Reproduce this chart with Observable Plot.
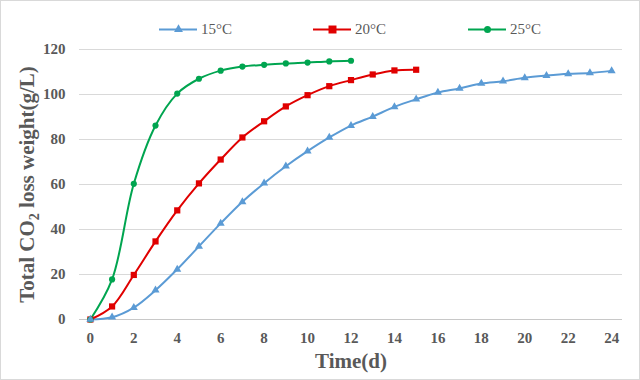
<!DOCTYPE html>
<html>
<head>
<meta charset="utf-8">
<script src="https://cdn.jsdelivr.net/npm/d3@7"></script>
<script src="https://cdn.jsdelivr.net/npm/@observablehq/plot@0.6"></script>
<style>
  html, body { margin: 0; padding: 0; background: #fff; }
  #chart { position: relative; width: 640px; height: 380px; box-sizing: border-box; border: 1px solid #d9d9d9; background: #fff; overflow: hidden; }
  #legend { position: relative; height: 39px; font-family: "Liberation Serif", "Times New Roman", serif; font-size: 15px; color: #595959; }
  .item { position: absolute; top: 18px; display: flex; align-items: center; height: 20px; }
  .item svg { display: block; margin-right: 4px; }
</style>
</head>
<body>
<div id="chart"><div id="legend"></div></div>
<script>
const series = ["15°C", "20°C", "25°C"];
const colors = ["#5b9bd5", "#e00000", "#00a550"];
const symbols = ["triangle", "square", "circle"];
const days15 = [0,1,2,3,4,5,6,7,8,9,10,11,12,13,14,15,16,17,18,19,20,21,22,23,24];
const loss15 = [0, 1.0, 5.3, 13.0, 22.3, 32.5, 42.7, 52.3, 60.6, 68.1, 74.8, 80.9, 86.2, 90.2, 94.5, 97.9, 100.9, 102.7, 104.9, 105.9, 107.4, 108.4, 109.2, 109.6, 110.5];
const days20 = [0,1,2,3,4,5,6,7,8,9,10,11,12,13,14,15];
const loss20 = [0, 5.8, 19.8, 34.7, 48.5, 60.5, 71.1, 80.9, 88.1, 94.7, 99.7, 103.7, 106.4, 108.9, 110.7, 111.0];
const days25 = [0,1,2,3,4,5,6,7,8,9,10,11,12];
const loss25 = [0, 17.8, 60.3, 86.2, 100.4, 107.0, 110.6, 112.4, 113.2, 113.8, 114.2, 114.7, 115.0];
const xTicks = [0,2,4,6,8,10,12,14,16,18,20,22,24];
const yTicks = [0,20,40,60,80,100,120];

const data = [
  ...days15.map((d, i) => ({series: series[0], day: d, loss: loss15[i]})),
  ...days20.map((d, i) => ({series: series[1], day: d, loss: loss20[i]})),
  ...days25.map((d, i) => ({series: series[2], day: d, loss: loss25[i]}))
];

// Legend (HTML)
const legend = document.getElementById("legend");
const legendX = [158, 312, 467];
series.forEach((s, i) => {
  const item = document.createElement("div");
  item.className = "item";
  item.style.left = legendX[i] + "px";
  const sw = Plot.plot({
    width: 38, height: 14, margin: 0,
    x: {domain: [0, 1], axis: null}, y: {domain: [0, 1], axis: null},
    style: {background: "transparent"},
    marks: [
      Plot.ruleY([0.5], {x1: 0, x2: 1, stroke: colors[i], strokeWidth: 2}),
      Plot.dot([[0.5, 0.5]], {x: d => d[0], y: d => d[1], symbol: symbols[i], fill: colors[i], r: i === 0 ? 3.3 : (i === 1 ? 4.5 : 3.5)})
    ]
  });
  item.appendChild(sw);
  const t = document.createElement("span");
  t.textContent = s;
  item.appendChild(t);
  legend.appendChild(item);
});

const rOf = {"15°C": 3.3, "20°C": 4.5, "25°C": 3.5};

const chart = Plot.plot({
  width: 638,
  height: 339,
  marginTop: 9,
  marginBottom: 60,
  marginLeft: 78,
  marginRight: 17,
  style: {fontFamily: "'Liberation Serif', 'Times New Roman', serif", fontSize: "15px", fontWeight: "bold", color: "#595959", background: "#fff"},
  x: {domain: [-0.5, 24.5]},
  y: {domain: [0, 120]},
  color: {domain: series, range: colors},
  symbol: {domain: series, range: symbols},
  marks: [
    Plot.gridY(yTicks, {stroke: "#d9d9d9", strokeOpacity: 1, strokeWidth: 1}),
    Plot.ruleY([0], {stroke: "#c8c8c8", strokeWidth: 1}),
    Plot.axisX(xTicks, {tickSize: 0, tickPadding: 13, label: null, fontSize: 15, fontWeight: "bold", fill: "#595959"}),
    Plot.axisY(yTicks, {tickSize: 0, tickPadding: 14, label: null, fontSize: 15, fontWeight: "bold", fill: "#595959"}),
    Plot.line(data, {x: "day", y: "loss", z: "series", stroke: "series", curve: "catmull-rom", strokeWidth: 2}),
    Plot.dot(data, {x: "day", y: "loss", symbol: "series", fill: "series", r: d => rOf[d.series]}),
    Plot.text(["Time(d)"], {frameAnchor: "bottom", dy: 48, fontSize: 21, fontWeight: "bold", fill: "#595959"}),
    Plot.text(["Total CO2 loss weight(g/L)"], {frameAnchor: "left", textAnchor: "middle", rotate: -90, dx: -52, fontSize: 21, fontWeight: "bold", fill: "#595959"})
  ]
});
chart.style.display = "block";
document.getElementById("chart").appendChild(chart);

// Subscript the 2 in CO2
d3.select(chart).selectAll("text").each(function() {
  if (this.textContent === "Total CO2 loss weight(g/L)") {
    const el = d3.select(this);
    el.text(null);
    el.append("tspan").text("Total CO");
    el.append("tspan").attr("font-size", 14).attr("dy", 5).text("2");
    el.append("tspan").attr("dy", -5).text(" loss weight(g/L)");
  }
});
</script>
</body>
</html>
